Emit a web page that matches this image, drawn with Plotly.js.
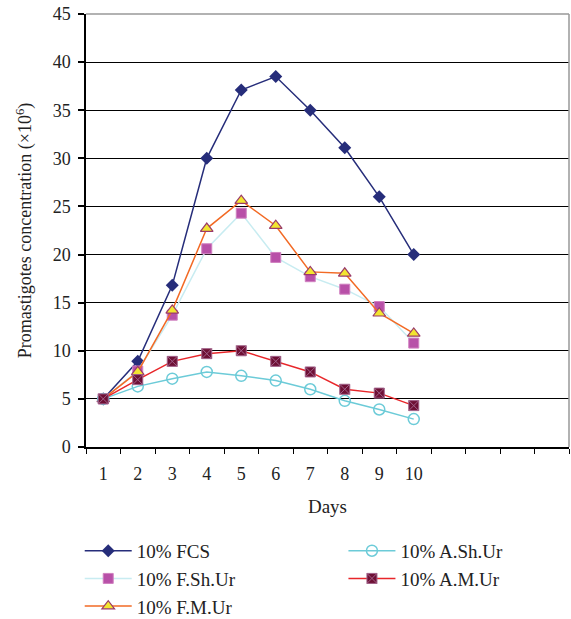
<!DOCTYPE html>
<html><head><meta charset="utf-8">
<script src="https://cdn.plot.ly/plotly-3.0.1.min.js"></script>
<style>html,body{margin:0;padding:0;background:#fff}#chart{width:571px;height:619px}</style>
</head><body><div id="chart"></div>
<script>
const days = [1,2,3,4,5,6,7,8,9,10];
const dayLabels = ['1','2','3','4','5','6','7','8','9','10'];
const fcs   = [5, 8.9, 16.8, 30, 37.1, 38.5, 35, 31.1, 26, 20];
const fshur = [5, 7.9, 13.7, 20.6, 24.3, 19.7, 17.7, 16.4, 14.6, 10.8];
const fmur  = [5, 7.8, 14.2, 22.7, 25.6, 23, 18.2, 18.05, 13.9, 11.8];
const ashur = [5, 6.3, 7.1, 7.8, 7.4, 6.9, 6.0, 4.8, 3.9, 2.9];
const amur  = [5, 7.0, 8.9, 9.7, 10, 8.9, 7.8, 6.0, 5.6, 4.3];
const yTicks = [0,5,10,15,20,25,30,35,40,45];

const F = 'Liberation Serif, DejaVu Serif, serif';
const traces = [
  {x: days, y: fcs, name: '10% FCS', mode: 'lines+markers', legend: 'legend',
   line: {color: '#262D7A', width: 1.5},
   marker: {symbol: 'diamond', size: 10, color: '#262D7A'}},
  {x: days, y: fshur, name: '10% F.Sh.Ur', mode: 'lines+markers', legend: 'legend',
   line: {color: '#C8ECF1', width: 1.5},
   marker: {symbol: 'square', size: 10, color: '#B850A8', line: {color: '#D080C0', width: 1}}},
  {x: days, y: fmur, name: '10% F.M.Ur', mode: 'lines+markers', legend: 'legend',
   line: {color: '#F26A25', width: 1.5},
   marker: {symbol: 'triangle-up', size: 11, color: '#F2E530', line: {color: '#9A3A6A', width: 1.2}}},
  {x: days, y: ashur, name: '10% A.Sh.Ur', mode: 'lines+markers', legend: 'legend2',
   line: {color: '#6CCBD8', width: 1.5},
   marker: {symbol: 'circle-open', size: 11, color: '#6CCBD8', line: {color: '#6CCBD8', width: 1.5}}},
  {x: days, y: amur, name: '10% A.M.Ur', mode: 'lines+markers', legend: 'legend2',
   line: {color: '#E8262A', width: 1.5},
   marker: {symbol: 'square-x', size: 10, color: '#6E1035', line: {color: '#A06088', width: 1}}}
];

const layout = {
  width: 571, height: 619,
  margin: {l: 86, r: 2, t: 14, b: 172, autoexpand: false},
  paper_bgcolor: '#fff', plot_bgcolor: '#fff',
  font: {family: F, size: 18, color: '#222'},
  showlegend: true,
  xaxis: {
    range: [0.5, 14.5], tickmode: 'array', tickvals: days, ticktext: dayLabels,
    ticks: '', showgrid: false, zeroline: false,
    showline: true, linecolor: '#000', linewidth: 1.5,
    tickfont: {family: F, size: 18, color: '#222'}, ticklabelstandoff: 10,
    minor: {tick0: 0.5, dtick: 1, ticks: 'outside', ticklen: 5, tickcolor: '#000', tickwidth: 1.2, showgrid: false},
    title: {text: 'Days', font: {family: F, size: 19, color: '#222'}, standoff: 16}
  },
  yaxis: {
    range: [0, 45], tickmode: 'array', tickvals: yTicks,
    ticks: 'outside', ticklen: 6, tickcolor: '#000', tickwidth: 1.5,
    showgrid: true, gridcolor: '#000', gridwidth: 1.3, zeroline: false,
    showline: true, linecolor: '#000', linewidth: 1.5,
    tickfont: {family: F, size: 18, color: '#222'}, ticklabelstandoff: 4,
    title: {text: 'Promastigotes concentration (×10<sup>6</sup>)', font: {family: F, size: 18, color: '#222'}, standoff: 16}
  },
  legend: {x: -0.013, y: -0.196, xanchor: 'left', yanchor: 'top', orientation: 'v',
    font: {family: F, size: 19, color: '#222'}, tracegroupgap: 0, itemwidth: 47, bgcolor: 'rgba(0,0,0,0)'},
  legend2: {x: 0.533, y: -0.196, xanchor: 'left', yanchor: 'top', orientation: 'v',
    font: {family: F, size: 19, color: '#222'}, tracegroupgap: 0, itemwidth: 47, bgcolor: 'rgba(0,0,0,0)'},
  shapes: [
    {type: 'line', xref: 'paper', yref: 'paper', x0: 0, x1: 1, y0: 1, y1: 1, line: {color: '#999', width: 1.5}},
    {type: 'line', xref: 'paper', yref: 'paper', x0: 1, x1: 1, y0: 0, y1: 1, line: {color: '#999', width: 1.5}}
  ]
};
Plotly.newPlot('chart', traces, layout, {displayModeBar: false});
</script></body></html>
